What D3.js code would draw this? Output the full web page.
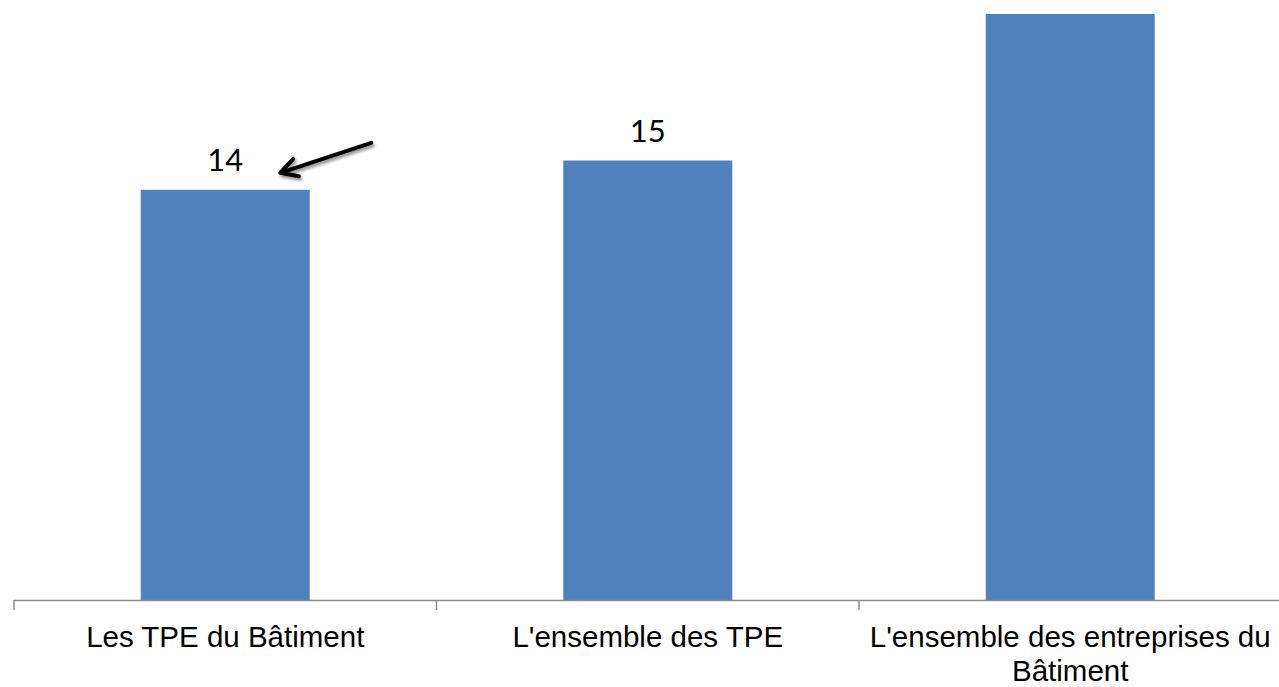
<!DOCTYPE html>
<html><head><meta charset="utf-8">
<script src="https://cdn.jsdelivr.net/npm/d3@7"></script>
<style>html,body{margin:0;padding:0;background:#fff;overflow:hidden}</style>
</head><body><svg id="c" width="1279" height="687"></svg>
<script>
const categories = ["Les TPE du Bâtiment", "L'ensemble des TPE", "L'ensemble des entreprises du Bâtiment"];
const categoryLines = [["Les TPE du Bâtiment"], ["L'ensemble des TPE"], ["L'ensemble des entreprises du", "Bâtiment"]];
const values = [14, 15, 20];
const valueLabels = ["14", "15", "20"];

const svg = d3.select("#c");
const x = d3.scaleBand().domain(categories).range([14, 1281.5]).paddingInner(0.6).paddingOuter(0.3);
const y = d3.scaleLinear().domain([0, 20]).range([600, 14]);

const defs = svg.append("defs");
const f = defs.append("filter").attr("id","sh").attr("x","-20%").attr("y","-50%").attr("width","140%").attr("height","200%");
f.append("feDropShadow").attr("dx",1.5).attr("dy",2.5).attr("stdDeviation",1.8).attr("flood-color","#000").attr("flood-opacity",0.45);

svg.selectAll("rect.bar").data(values).join("rect").attr("class","bar")
  .attr("x",(d,i)=>x(categories[i])).attr("width",x.bandwidth())
  .attr("y",d=>y(d)).attr("height",d=>y(0)-y(d)).attr("fill","#4F81BD");

const step = x.step();
const axisG = svg.append("g");
axisG.append("line").attr("x1",14).attr("x2",1279).attr("y1",600.5).attr("y2",600.5).attr("stroke","#8c8c8c").attr("stroke-width",1.5);
const tickX = [0,1,2,3].map(i=>14+i*step);
axisG.selectAll("line.t").data(tickX).join("line").attr("class","t")
  .attr("x1",d=>d).attr("x2",d=>d).attr("y1",600).attr("y2",610).attr("stroke","#8c8c8c").attr("stroke-width",1.5);

categoryLines.forEach((lines,i)=>{
  const cx = x(categories[i]) + x.bandwidth()/2;
  lines.forEach((ln,j)=>{
    svg.append("text").attr("x",cx).attr("y",647+j*33.5).attr("text-anchor","middle")
      .attr("font-family","Liberation Sans, Arial, sans-serif").attr("font-size",29.5).attr("fill","#000").text(ln);
  });
});

// value labels (the one above the chart top is clipped in the reference, so only draw visible ones)
const labelData = values.map((d,i)=>({d,i})).filter(o=>y(o.d)-18-24>0);
svg.selectAll("text.v").data(labelData).join("text").attr("class","v")
  .attr("x",o=>x(categories[o.i])+x.bandwidth()/2).attr("y",o=>y(o.d)-18.5)
  .attr("text-anchor","middle").attr("font-family","Lato, 'DejaVu Sans', sans-serif").attr("font-size",31)
  .attr("fill","#000").text(o=>valueLabels[o.i]);

const ax = x(categories[0]) + x.bandwidth()/2;
const tipX = ax + 55, tipY = y(values[0]) - 17;
const tailX = ax + 146, tailY = y(values[0]) - 47;
const ag = svg.append("g").attr("filter","url(#sh)");
const ang = Math.atan2(tailY-tipY, tailX-tipX);
ag.append("line").attr("x1",tailX).attr("y1",tailY).attr("x2",tipX+4*Math.cos(ang)).attr("y2",tipY+4*Math.sin(ang))
  .attr("stroke","#000").attr("stroke-width",4).attr("stroke-linecap","round");
const hl = 19, ha = 0.5;
ag.append("path").attr("d",`M${tipX+hl*Math.cos(ang+ha)},${tipY+hl*Math.sin(ang+ha)} L${tipX},${tipY} L${tipX+hl*Math.cos(ang-ha)},${tipY+hl*Math.sin(ang-ha)}`)
  .attr("fill","none").attr("stroke","#000").attr("stroke-width",4).attr("stroke-linecap","round").attr("stroke-linejoin","round");
</script></body></html>
